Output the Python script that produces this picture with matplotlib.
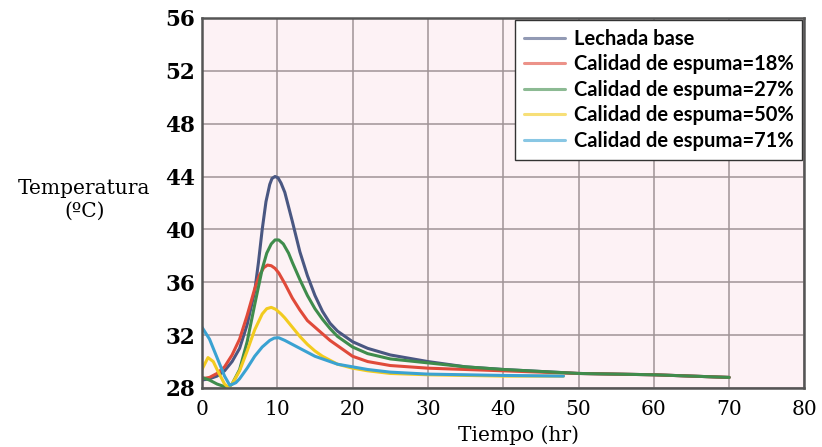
import matplotlib
matplotlib.use("Agg")
import matplotlib.pyplot as plt

# curvas de temperatura vs tiempo para cada calidad de espuma
t_base = [0, 1, 2, 3, 4, 5, 6, 7, 7.5, 8, 8.5, 9, 9.3, 9.7, 10.1, 10.5, 11, 12, 13, 14, 15, 16,
          17, 18, 20, 22, 25, 30, 35, 40, 50, 60, 70]
temp_base = [28.6, 28.7, 28.9, 29.3, 30.0, 31.0, 32.8, 35.3, 37.5, 40.0, 42.1, 43.4, 43.85, 44.0,
             43.9, 43.5, 42.8, 40.6, 38.3, 36.5, 35.0, 33.8, 32.9, 32.3, 31.5, 31.0, 30.5, 30.0,
             29.6, 29.4, 29.1, 29.0, 28.8]

t_18 = [0, 1, 2, 3, 4, 5, 6, 7, 7.6, 8.2, 8.7, 9.2, 9.7, 10.2, 11, 12, 13, 14, 15, 16, 17, 18,
        20, 22, 25, 30, 35, 40, 50, 60, 70]
temp_18 = [28.7, 28.8, 29.1, 29.6, 30.5, 31.7, 33.5, 35.5, 36.5, 37.1, 37.3, 37.25, 37.05, 36.7,
           35.9, 34.8, 33.9, 33.1, 32.6, 32.1, 31.6, 31.2, 30.4, 30.0, 29.7, 29.5, 29.4, 29.3,
           29.1, 29.0, 28.8]

t_27 = [0, 1, 2, 3, 3.5, 4, 5, 6, 7, 8, 8.6, 9.2, 9.7, 10.2, 10.8, 11.5, 12, 13, 14, 15, 16, 17,
        18, 20, 22, 25, 30, 35, 40, 50, 60, 70]
temp_27 = [28.8, 28.6, 28.3, 28.1, 28.05, 28.3, 29.4, 31.5, 34.3, 37.0, 38.2, 38.9, 39.2, 39.2,
           38.9, 38.2, 37.5, 36.2, 35.0, 34.0, 33.2, 32.5, 31.9, 31.1, 30.6, 30.2, 29.9, 29.6,
           29.4, 29.1, 29.0, 28.8]

t_50 = [0, 0.8, 1.5, 2, 3, 3.5, 4, 5, 6, 7, 8, 8.6, 9.2, 9.8, 10.5, 11, 12, 13, 14, 15, 16, 17,
        18, 20, 22, 25, 30, 35, 40, 48]
temp_50 = [29.4, 30.3, 30.0, 29.4, 28.3, 28.05, 28.3, 29.3, 30.8, 32.4, 33.6, 34.0, 34.1, 33.95,
           33.6, 33.3, 32.6, 31.9, 31.3, 30.8, 30.4, 30.1, 29.8, 29.5, 29.3, 29.1, 29.0, 28.95,
           28.9, 28.9]

t_71 = [0, 1, 2, 3, 3.7, 4.5, 5, 6, 7, 8, 9, 9.6, 10.2, 11, 12, 13, 14, 15, 16, 18, 20, 22, 25,
        30, 35, 40, 48]
temp_71 = [32.6, 31.7, 30.3, 28.9, 28.2, 28.4, 28.7, 29.5, 30.4, 31.1, 31.6, 31.78, 31.8, 31.6,
           31.3, 31.0, 30.7, 30.4, 30.2, 29.8, 29.6, 29.4, 29.2, 29.05, 29.0, 28.95, 28.9]

labels = ["Lechada base", "Calidad de espuma=18%", "Calidad de espuma=27%",
          "Calidad de espuma=50%", "Calidad de espuma=71%"]
colors = ["#4a5782", "#e04a3a", "#3f8c4c", "#f2cb1f", "#3aa2d2"]

x_ticks = [0, 10, 20, 30, 40, 50, 60, 70, 80]
y_ticks = [28, 32, 36, 40, 44, 48, 52, 56]

fig = plt.figure(figsize=(8.22, 4.47), dpi=100)
ax = fig.add_axes([0.2457, 0.132, 0.733, 0.828])
ax.set_facecolor("#fdf2f5")

series = [(t_base, temp_base), (t_18, temp_18), (t_27, temp_27), (t_50, temp_50), (t_71, temp_71)]
for (tt, yy), lab, col in zip(series, labels, colors):
    ax.plot(tt, yy, color=col, lw=2.2, label=lab, solid_capstyle="round", solid_joinstyle="round")

ax.set_xlim(0, 80)
ax.set_ylim(28, 56)
ax.set_xticks(x_ticks)
ax.set_yticks(y_ticks)
ax.grid(True, color="#a09497", lw=1.1)
ax.set_axisbelow(True)
ax.tick_params(axis="y", length=0, pad=5)
ax.tick_params(axis="x", length=0, pad=9)
for lbl in ax.get_yticklabels():
    lbl.set_fontfamily("DejaVu Serif")
    lbl.set_fontweight("bold")
    lbl.set_fontsize(15.5)
for lbl in ax.get_xticklabels():
    lbl.set_fontfamily("DejaVu Serif")
    lbl.set_fontsize(14.5)
for s in ax.spines.values():
    s.set_color("#555555")
    s.set_linewidth(1.8)

ax.set_xlabel("Tiempo (hr)", fontfamily="DejaVu Serif", fontsize=14.5, va="center")
ax.xaxis.set_label_coords(0.525, -0.127)
ax.set_ylabel("Temperatura\n(ºC)", fontfamily="DejaVu Serif", fontsize=14.5, rotation=0,
              linespacing=1.25, va="center", ha="center")
ax.yaxis.set_label_coords(-0.195, 0.508)

leg = ax.legend(loc="upper right", bbox_to_anchor=(1.0, 1.0), borderaxespad=0.1,
                prop={"family": "Lato", "weight": "bold", "size": 14.5},
                handlelength=2.0, handletextpad=0.45, labelspacing=0.27, borderpad=0.45,
                fancybox=False, framealpha=1, edgecolor="#333333")
leg.get_frame().set_linewidth(1.0)
for h in leg.get_lines():
    h.set_alpha(0.6)

fig.savefig("out.png", dpi=100)
